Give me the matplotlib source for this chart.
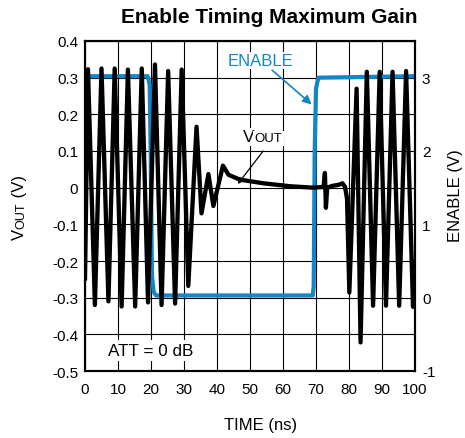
import matplotlib
matplotlib.use('Agg')
import matplotlib.pyplot as plt

plt.rcParams['font.family'] = ['Liberation Sans', 'DejaVu Sans']
plt.rcParams['axes.unicode_minus'] = False

# VOUT trace (time in ns, volts)
t_vout = [0, 0.9, 3.0, 5.0, 7.1, 9.0, 11.1, 13.0, 15.2, 17.2, 19.1, 21.2, 23.2,
          25.2, 27.3, 29.3, 31.3, 33.8, 35.3, 37.4, 38.9, 41.8, 43.5, 46.9, 54.0,
          62.0, 69.0, 72.3, 72.7, 73.0, 73.4, 75.0, 77.0, 78.0, 78.8, 79.4, 80.1,
          82.3, 83.5, 85.4, 87.3, 89.3, 91.2, 93.2, 95.2, 97.3, 99.4, 100.0]
vout = [-0.25, 0.323, -0.32, 0.325, -0.31, 0.325, -0.324, 0.322, -0.324, 0.325,
        -0.313, 0.336, -0.32, 0.318, -0.316, 0.322, -0.268, 0.166, -0.07, 0.037,
        -0.05, 0.06, 0.035, 0.022, 0.012, 0.004, 0.0, 0.002, 0.04, -0.055, 0.0,
        0.005, 0.008, 0.012, 0.002, -0.03, -0.286, 0.27, -0.422, 0.316, -0.322,
        0.316, -0.322, 0.316, -0.322, 0.318, -0.325, -0.2]

# ENABLE trace (right axis)
t_en = [0, 19.0, 19.6, 19.9, 20.3, 20.8, 21.5, 69.0, 69.3, 69.6, 70.0, 70.7, 100]
enable = [3.02, 3.02, 2.9, 2.0, 0.3, 0.08, 0.03, 0.03, 0.15, 2.0, 2.85, 3.0, 3.02]

x_ticks = list(range(0, 101, 10))
vout_ticks = [0.4, 0.3, 0.2, 0.1, 0, -0.1, -0.2, -0.3, -0.4, -0.5]
vout_labels = ['0.4', '0.3', '0.2', '0.1', '0', '-0.1', '-0.2', '-0.3', '-0.4', '-0.5']
en_ticks = [3, 2, 1, 0, -1]

blue = '#1286c6'
white_box = dict(facecolor='white', edgecolor='none', pad=1)

fig = plt.figure(figsize=(4.65, 4.39), dpi=100)
ax = fig.add_axes([85 / 465, 1 - 372 / 439, 330 / 465, 330 / 439])
ax2 = ax.twinx()

ax.set_xlim(0, 100)
ax.set_ylim(-0.5, 0.4)
ax2.set_ylim(-1, 3.5)

ax.set_xticks(x_ticks)
ax.set_yticks(vout_ticks)
ax.set_yticklabels(vout_labels)
ax2.set_yticks(en_ticks)

ax.grid(True, color='black', lw=0.8)
ax.set_axisbelow(True)

ax.plot(t_en, enable, color=blue, lw=3.0, transform=ax2.transData, zorder=2)
ax.plot(t_vout, vout, color='black', lw=3.1, solid_joinstyle='round',
        solid_capstyle='round', zorder=3)

ax.tick_params(axis='both', length=0, labelsize=11)
ax.tick_params(axis='x', pad=8)
ax.tick_params(axis='y', pad=5)
ax2.tick_params(axis='y', length=0, labelsize=11, pad=5)
for a in (ax, ax2):
    for s in a.spines.values():
        s.set_linewidth(1.5)

ax.set_xlabel('TIME (ns)', fontsize=12)
ax.xaxis.set_label_coords(0.533, -0.14)
ax2.set_ylabel('ENABLE (V)', fontsize=12)
ax2.yaxis.set_label_coords(1.10, 0.533)

# left axis label: V with a smaller OUT, then (V)
yl_v = fig.text(27 / 465, 199 / 439, 'V', rotation=90, ha='right', va='bottom',
                fontsize=12)
yl_out = ax.annotate('OUT', xy=(1, 1), xycoords=yl_v, rotation=90, ha='right',
                     va='bottom', fontsize=9, annotation_clip=False)
ax.annotate(' (V)', xy=(1, 1), xycoords=yl_out, rotation=90, ha='right',
            va='bottom', fontsize=12, annotation_clip=False)

# annotations inside the plot
ax.annotate('ENABLE', xy=(68.7, 0.227), xytext=(53.3, 0.347), color=blue,
            fontsize=12, ha='center', va='center', zorder=5, bbox=white_box,
            arrowprops=dict(arrowstyle='-|>', color=blue, lw=1.2,
                            mutation_scale=13, shrinkA=1, shrinkB=0))
ax.annotate('', xy=(46.3, 0.01), xytext=(54.0, 0.1), zorder=5,
            arrowprops=dict(arrowstyle='-|>', color='black', lw=0.9,
                            mutation_scale=9, shrinkA=0, shrinkB=0))
v_txt = ax.text(47.9, 0.139, 'V', fontsize=12.5, ha='left', va='center',
                zorder=6, bbox=white_box)
ax.annotate('OUT', xy=(1, 0), xycoords=v_txt, ha='left', va='bottom',
            fontsize=9.5, zorder=6, bbox=white_box)

ax.text(7, -0.444, 'ATT = 0 dB', fontsize=12.3, ha='left', va='center', zorder=4,
        bbox=dict(facecolor='white', edgecolor='none', pad=2))

fig.text(269 / 465, 1 - 17.5 / 439, 'Enable Timing Maximum Gain',
         fontsize=15, weight='bold', ha='center', va='center')

fig.savefig('out.png', dpi=100)
